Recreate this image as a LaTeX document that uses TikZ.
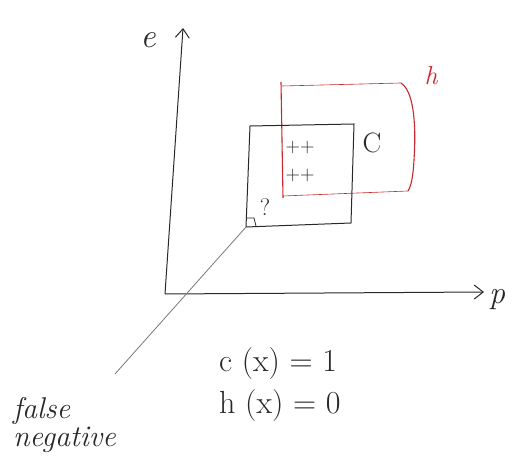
\documentclass[tikz,border=0pt]{standalone}
\usetikzlibrary{arrows.meta}
\definecolor{ink}{RGB}{40,40,40}
\definecolor{redink}{RGB}{200,40,45}
\definecolor{lead}{RGB}{120,120,120}
\tikzset{
  axis/.style={draw=ink, line width=1pt, -{Straight Barb[length=9pt,width=14pt]}},
  boxc/.style={draw=ink, line width=1pt},
  boxh/.style={draw=redink, line width=0.6pt},
  boxhs/.style={draw=redink, line width=1.1pt},
  lbl/.style={inner sep=1pt, text=ink, font=\itshape},
  leader/.style={draw=lead, line width=0.8pt},
}
\begin{document}
\begin{tikzpicture}[x=1pt,y=-1pt]
\useasboundingbox (0,0) rectangle (512,473);
% axes
\coordinate (o) at (165,294);
\coordinate (ytop) at (183,28);
\coordinate (xend) at (484,292);
\draw[axis] (o) -- (ytop);
\draw[axis] (o) -- (xend);
\node[lbl, font=\itshape\fontsize{34}{34}\selectfont] (e) at (148,40) {e};
\node[lbl, font=\itshape\fontsize{32}{32}\selectfont] (p) at (497,300) {p};
% hypothesis h (red)
\coordinate (h1) at (282,86);
\coordinate (h2) at (401,83);
\coordinate (h3) at (283,196);
\coordinate (h4) at (408,191);
\draw[boxh] (h1) -- (h2);
\draw[boxh] (h3) -- (h4);
\draw[boxhs] (281,82) -- (283,198);
\draw[boxhs] (h2) .. controls (415,92) and (416,130) .. (414,160) .. controls (413,178) and (411,186) .. (h4);
\node[lbl, text=redink, font=\itshape\fontsize{26}{26}\selectfont] (h) at (431,76) {h};
% concept c (black)
\coordinate (c1) at (250,126);
\coordinate (c2) at (354,124);
\coordinate (c3) at (351,223);
\coordinate (c4) at (246,227);
\draw[boxc] (c1) -- (c2) -- (c3) -- (c4) -- cycle;
\node[lbl, font=\fontsize{28}{28}\selectfont] (C) at (372,143) {C};
% positives
\node[lbl, font=\fontsize{20}{20}\selectfont] (pp1) at (300,148) {++};
\node[lbl, font=\fontsize{20}{20}\selectfont] (pp2) at (300,176) {++};
% false negative point
\draw[boxc, line width=0.8pt] (246,218) -- (254,218) -- (256,226);
\node[lbl, font=\fontsize{24}{24}\selectfont] (q) at (265,207) {?};
% annotation
\node[lbl, align=left, font=\itshape\fontsize{30}{28}\selectfont, anchor=north west] (fn) at (12,396) {false\\negative};
\coordinate (fnend) at (115,374);
\draw[leader] (c4) -- (fnend);
\node[lbl, align=left, font=\fontsize{32}{42}\selectfont, anchor=north west] (eq) at (218,346) {c (x) = 1\\h (x) = 0};
\end{tikzpicture}
\end{document}
